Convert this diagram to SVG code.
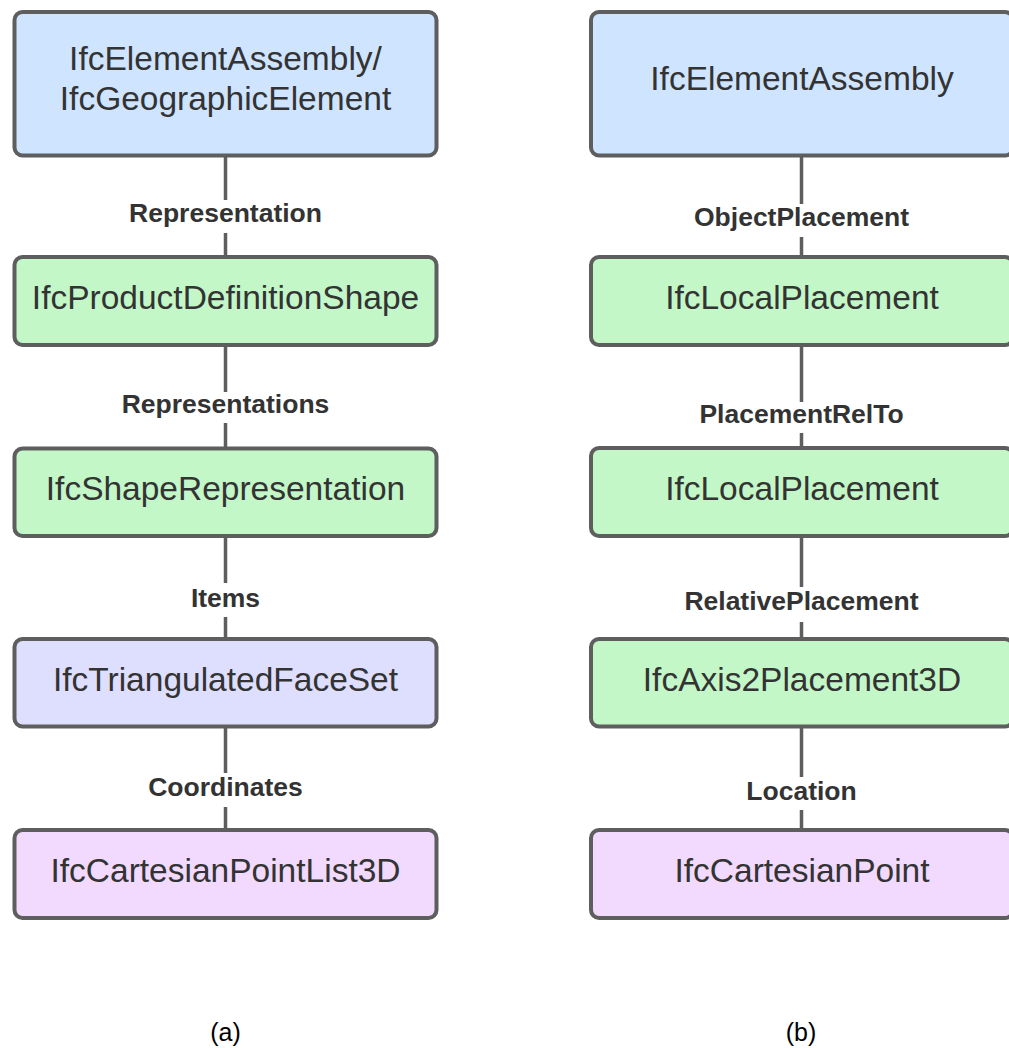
<svg xmlns="http://www.w3.org/2000/svg" width="1009" height="1048" viewBox="0 0 1009 1048">
  <style>
    .box { stroke: #5e5e5e; stroke-width: 4; }
    .blue { fill: #cfe4ff; }
    .green { fill: #c3f7c8; }
    .lav { fill: #dedeff; }
    .pink { fill: #f2d9fe; }
    .t { font-family: "Liberation Sans", Arial, sans-serif; font-size: 33.5px; fill: #333333; text-anchor: middle; }
    .lbl { font-family: "Liberation Sans", Arial, sans-serif; font-size: 26.5px; font-weight: bold; fill: #333333; text-anchor: middle; }
    .cap { font-family: "Liberation Sans", Arial, sans-serif; font-size: 25px; fill: #000000; text-anchor: middle; }
    .ln { stroke: #5e5e5e; stroke-width: 3.5; fill: none; }
  </style>
  <rect width="1009" height="1048" fill="#ffffff"/>

  <g id="connectors">
    <path class="ln" d="M225.5 157 V200 M225.5 233 V256"/>
    <path class="ln" d="M225.5 346 V392 M225.5 423 V447"/>
    <path class="ln" d="M225.5 537 V583 M225.5 617 V638"/>
    <path class="ln" d="M225.5 728 V773 M225.5 807 V829"/>
    <path class="ln" d="M801.5 157 V204 M801.5 237 V256"/>
    <path class="ln" d="M801.5 346 V402 M801.5 433 V447"/>
    <path class="ln" d="M801.5 537 V587 M801.5 622 V638"/>
    <path class="ln" d="M801.5 728 V777 M801.5 810 V829"/>
    <text class="lbl" x="225.5" y="222">Representation</text>
    <text class="lbl" x="225.5" y="413">Representations</text>
    <text class="lbl" x="225.5" y="606.5">Items</text>
    <text class="lbl" x="225.5" y="796">Coordinates</text>
    <text class="lbl" x="801.5" y="226">ObjectPlacement</text>
    <text class="lbl" x="801.5" y="422.5">PlacementRelTo</text>
    <text class="lbl" x="801.5" y="610">RelativePlacement</text>
    <text class="lbl" x="801.5" y="800">Location</text>
  </g>

  <g id="a1">
    <rect class="box blue" x="14.5" y="12" width="422" height="143.5" rx="8"/>
    <text class="t" x="225.5" y="70">IfcElementAssembly/</text>
    <text class="t" x="225.5" y="110">IfcGeographicElement</text>
  </g>
  <g id="a2">
    <rect class="box green" x="14.5" y="257" width="422" height="88" rx="8"/>
    <text class="t" x="225.5" y="309">IfcProductDefinitionShape</text>
  </g>
  <g id="a3">
    <rect class="box green" x="14.5" y="448.5" width="422" height="87.5" rx="8"/>
    <text class="t" x="225.5" y="500">IfcShapeRepresentation</text>
  </g>
  <g id="a4">
    <rect class="box lav" x="14.5" y="639" width="422" height="87.5" rx="8"/>
    <text class="t" x="225.5" y="691">IfcTriangulatedFaceSet</text>
  </g>
  <g id="a5">
    <rect class="box pink" x="14.5" y="830" width="422" height="88" rx="8"/>
    <text class="t" x="225.5" y="882">IfcCartesianPointList3D</text>
  </g>

  <g id="b1">
    <rect class="box blue" x="591" y="12" width="422" height="143.5" rx="8"/>
    <text class="t" x="802" y="90">IfcElementAssembly</text>
  </g>
  <g id="b2">
    <rect class="box green" x="591" y="257" width="422" height="88" rx="8"/>
    <text class="t" x="802" y="309">IfcLocalPlacement</text>
  </g>
  <g id="b3">
    <rect class="box green" x="591" y="448" width="422" height="88" rx="8"/>
    <text class="t" x="802" y="500">IfcLocalPlacement</text>
  </g>
  <g id="b4">
    <rect class="box green" x="591" y="639" width="422" height="87.5" rx="8"/>
    <text class="t" x="802" y="691">IfcAxis2Placement3D</text>
  </g>
  <g id="b5">
    <rect class="box pink" x="591" y="830" width="422" height="88" rx="8"/>
    <text class="t" x="802" y="882">IfcCartesianPoint</text>
  </g>

  <text class="cap" x="225.5" y="1041">(a)</text>
  <text class="cap" x="801" y="1041">(b)</text>
</svg>
